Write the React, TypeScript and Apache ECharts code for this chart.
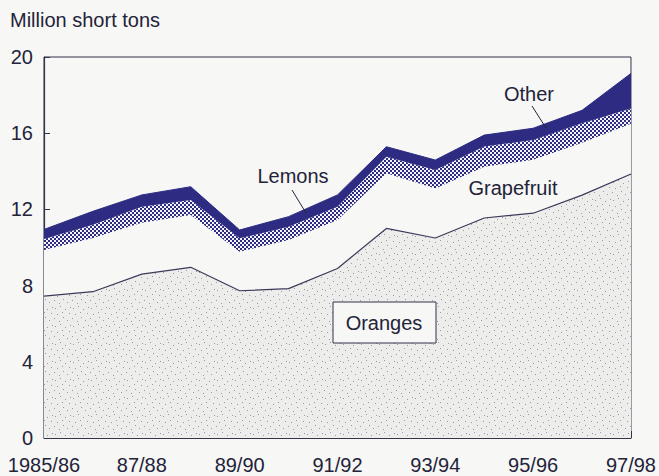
import React, { useEffect, useRef } from "react";
import * as echarts from "echarts";

const categories = ["1985/86", "86/87", "87/88", "88/89", "89/90", "90/91", "91/92", "92/93", "93/94", "94/95", "95/96", "96/97", "97/98"];
const oranges = [7.45, 7.68, 8.6, 8.96, 7.73, 7.84, 8.9, 11.0, 10.5, 11.55, 11.8, 12.75, 13.86];
const grapefruit = [2.42, 2.82, 2.7, 2.74, 2.05, 2.55, 2.54, 2.9, 2.6, 2.69, 2.8, 2.75, 2.64];
const lemons = [0.58, 0.7, 0.84, 0.79, 0.7, 0.7, 0.7, 0.87, 0.97, 1.06, 1.04, 1.02, 0.8];
const other = [0.5, 0.7, 0.62, 0.7, 0.44, 0.53, 0.62, 0.52, 0.52, 0.6, 0.62, 0.68, 1.84];
const yTicks = { min: 0, max: 20, interval: 4 };
const unitLabel = "Million short tons";

const NAVY = "#2d2c82";
const INK = "#23233a";
const BG = "#f7f7f5";
const FONT = "'Liberation Sans', Arial, Helvetica, sans-serif";

function makeStipple() {
  const c = document.createElement("canvas");
  c.width = 18;
  c.height = 18;
  const ctx = c.getContext("2d")!;
  ctx.fillStyle = "#ededec";
  ctx.fillRect(0, 0, 18, 18);
  ctx.fillStyle = "#9a9aa0";
  const dots = [[1, 2], [6, 0], [11, 3], [15, 7], [3, 8], [9, 11], [13, 14], [5, 15], [0, 12], [8, 6], [16, 1]];
  dots.forEach(([x, y]) => ctx.fillRect(x, y, 1, 1));
  return c;
}

function makeChecker() {
  const c = document.createElement("canvas");
  c.width = 4;
  c.height = 4;
  const ctx = c.getContext("2d")!;
  ctx.fillStyle = "#f4f4f8";
  ctx.fillRect(0, 0, 4, 4);
  ctx.fillStyle = NAVY;
  for (let y = 0; y < 4; y += 2) {
    for (let x = 0; x < 4; x += 2) {
      if (((x + y) / 2) % 2 === 0) ctx.fillRect(x, y, 2, 2);
    }
  }
  return c;
}

export default function App() {
  const ref = useRef<HTMLDivElement>(null);
  useEffect(() => {
    document.body.style.background = BG;
    const chart = echarts.init(ref.current!, null, { renderer: "svg" });
    const stipple = { image: makeStipple(), repeat: "repeat", imageWidth: 18, imageHeight: 18 };
    const checker = { image: makeChecker(), repeat: "repeat", imageWidth: 4, imageHeight: 4 };
    const textStyle = { fill: INK, font: `20px ${FONT}`, textAlign: "center", textVerticalAlign: "middle" };
    chart.setOption({
      animation: false,
      backgroundColor: BG,
      grid: { left: 44, right: 22, top: 57, bottom: 38, show: true, borderColor: "#33334a", borderWidth: 1, backgroundColor: "transparent" },
      xAxis: {
        type: "category",
        data: categories,
        boundaryGap: false,
        axisLine: { lineStyle: { color: "#33334a", width: 1.2 } },
        axisTick: { inside: true, length: 7, interval: 0, lineStyle: { color: "#33334a" } },
        axisLabel: { interval: 1, color: INK, fontSize: 20, fontFamily: FONT, margin: 17 },
        splitLine: { show: false },
      },
      yAxis: {
        type: "value",
        min: yTicks.min,
        max: yTicks.max,
        interval: yTicks.interval,
        axisLine: { show: true, lineStyle: { color: "#33334a", width: 1.2 } },
        axisTick: { show: true, inside: true, length: 6, lineStyle: { color: "#33334a" } },
        axisLabel: { color: INK, fontSize: 20, fontFamily: FONT, margin: 11 },
        splitLine: { show: false },
      },
      series: [
        {
          name: "Oranges", type: "line", stack: "total", data: oranges, showSymbol: false,
          lineStyle: { color: "#3a3a5a", width: 1.2 }, areaStyle: { color: stipple, opacity: 1 }, z: 2,
        },
        {
          name: "Grapefruit", type: "line", stack: "total", data: grapefruit, showSymbol: false,
          lineStyle: { width: 0 }, areaStyle: { color: BG, opacity: 1 }, z: 2,
        },
        {
          name: "Lemons", type: "line", stack: "total", data: lemons, showSymbol: false,
          lineStyle: { width: 0 }, areaStyle: { color: checker, opacity: 1 }, z: 2,
        },
        {
          name: "Other", type: "line", stack: "total", data: other, showSymbol: false,
          lineStyle: { color: NAVY, width: 1 }, areaStyle: { color: NAVY, opacity: 1 }, z: 2,
        },
      ],
      graphic: {
        elements: [
          { type: "text", left: 10, top: 10, z: 100, style: { text: unitLabel, fill: INK, font: `20px ${FONT}` } },
          { type: "text", x: 293, y: 176, z: 100, style: { ...textStyle, text: "Lemons" } },
          { type: "line", z: 100, shape: { x1: 292, y1: 190, x2: 306, y2: 213 }, style: { stroke: INK, lineWidth: 1 } },
          { type: "text", x: 529, y: 94, z: 100, style: { ...textStyle, text: "Other" } },
          { type: "line", z: 100, shape: { x1: 532, y1: 106, x2: 546, y2: 128 }, style: { stroke: INK, lineWidth: 1 } },
          { type: "text", x: 513, y: 188, z: 100, style: { ...textStyle, text: "Grapefruit" } },
          { type: "rect", z: 100, shape: { x: 333, y: 302, width: 103, height: 41 }, style: { fill: BG, stroke: "#33334a", lineWidth: 1 } },
          { type: "text", x: 384, y: 323, z: 101, style: { ...textStyle, text: "Oranges" } },
        ],
      },
    });
    return () => chart.dispose();
  }, []);
  return <div ref={ref} style={{ position: "absolute", left: 0, top: 0, width: 659, height: 476 }} />;
}
